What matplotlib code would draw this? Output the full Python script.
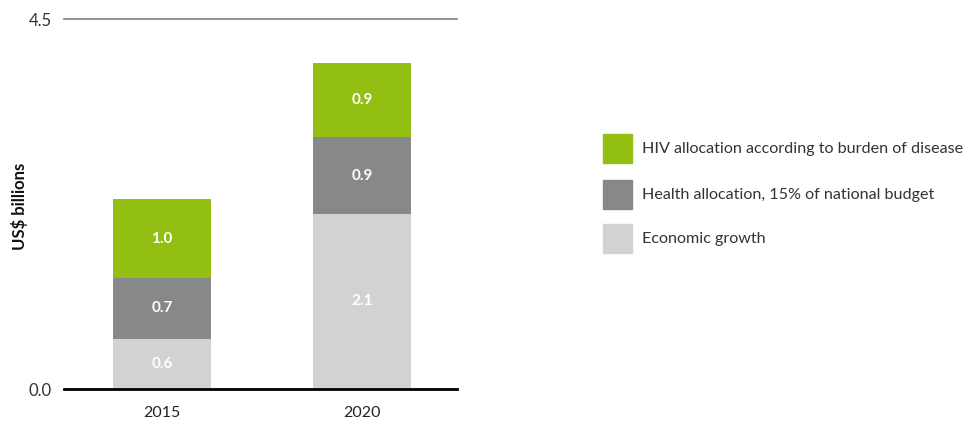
import matplotlib.pyplot as plt
from matplotlib.patches import Rectangle
import numpy as np

years = ["2015", "2020"]
economic = [0.61, 2.13]
health = [0.74, 0.93]
hiv = [0.96, 0.91]
series_names = [
    "Economic growth",
    "Health allocation, 15% of national budget",
    "HIV allocation according to burden of disease",
]
colors = ["#d1d2d4", "#87888a", "#93be12"]

plt.rcParams["font.family"] = ["Lato", "DejaVu Sans"]

W, H = 968, 424
fig = plt.figure(figsize=(W / 100, H / 100), dpi=100)
ax = fig.add_axes([64 / W, 1 - 389 / H, (457 - 64) / W, 370 / H])

x = np.arange(len(years))
width = 0.49
bottom = np.zeros(len(years))
for vals, name, col in zip([economic, health, hiv], series_names, colors):
    ax.bar(x, vals, width, bottom=bottom, color=col, label=name, zorder=2)
    for xi, b, v in zip(x, bottom, vals):
        ax.text(xi, b + v / 2, f"{v:.1f}", ha="center", va="center",
                color="white", fontsize=11, fontweight="bold")
    bottom += np.array(vals)

ax.set_ylim(0, 4.5)
ax.set_xlim(-0.49, 1.475)
ax.set_yticks([0, 4.5])
ax.set_yticklabels(["0.0", "4.5"], fontsize=12, color="#333333")
ax.set_xticks(x)
ax.set_xticklabels(years, fontsize=11.5, color="#222222")
ax.tick_params(length=0, axis="y", pad=9)
ax.tick_params(length=0, axis="x", pad=12)
for s in ["top", "right", "left"]:
    ax.spines[s].set_visible(False)
ax.spines["bottom"].set_linewidth(2)
ax.spines["bottom"].set_color("black")
ax.axhline(4.5, color="#808080", linewidth=1.2, clip_on=False)

fig.text(20 / W, 1 - 206 / H, "US$ billions", rotation=90, ha="center",
         va="center", fontsize=12, fontweight="bold", color="#111111")

# legend, top entry first
legend_top = [134, 180, 224]
for top, name, col in zip(legend_top, series_names[::-1], colors[::-1]):
    fig.add_artist(Rectangle((603 / W, 1 - (top + 29) / H), 29 / W, 29 / H,
                             transform=fig.transFigure, color=col))
    fig.text(642 / W, 1 - (top + 14.5) / H, name, ha="left", va="center",
             fontsize=11.6, color="#333333")

fig.savefig("out.png", dpi=100)
